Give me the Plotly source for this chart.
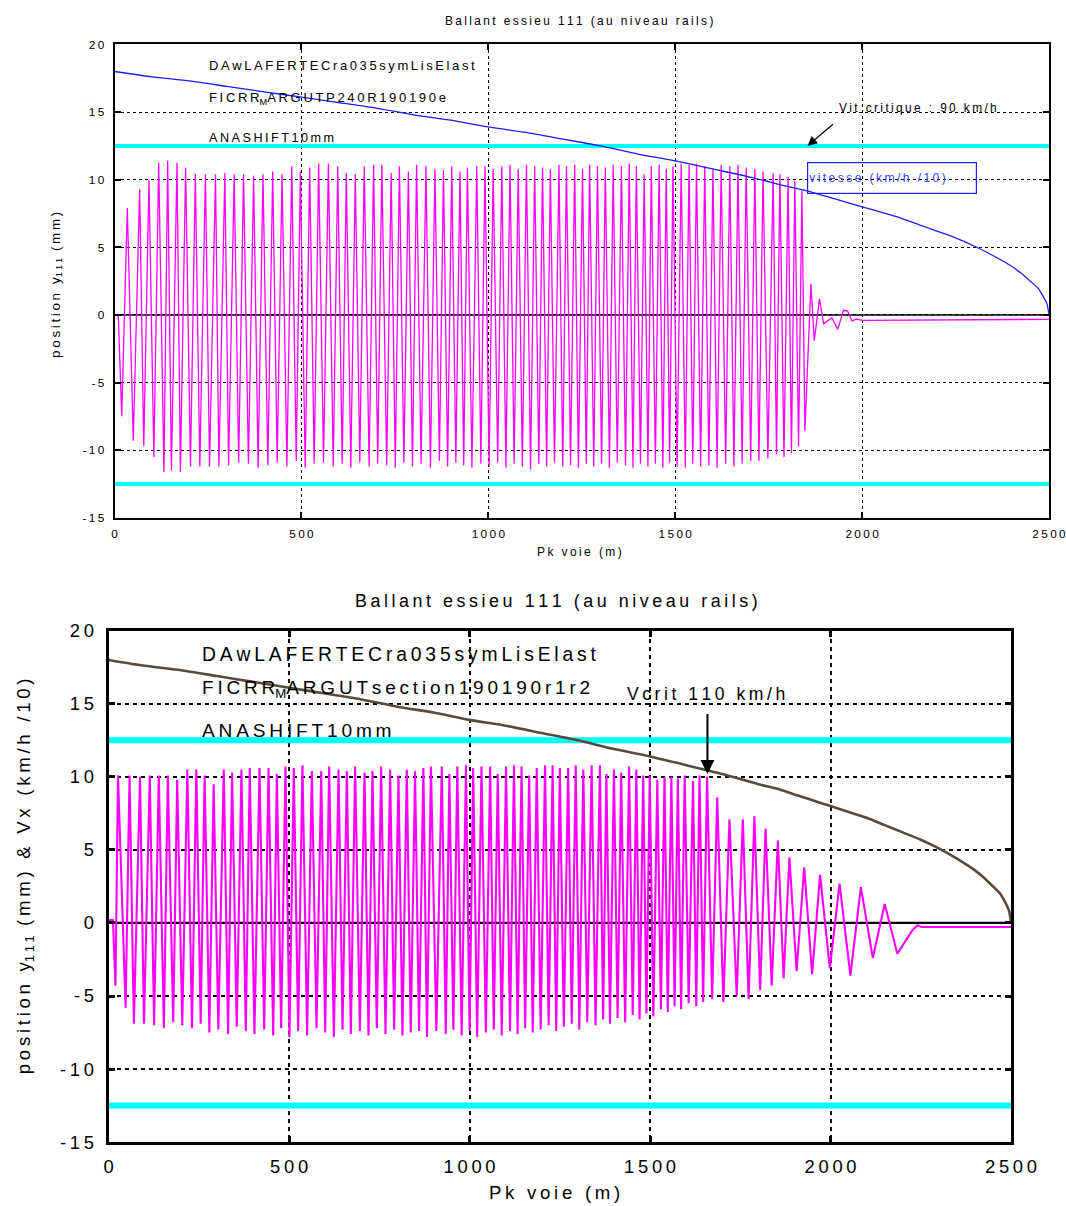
import plotly.graph_objects as go

# ---------------- data ----------------
# vehicle speed along the track (km/h / 10)
speed_x = [0, 100, 200, 300, 400, 500, 600, 700, 800, 900, 1000, 1100, 1200, 1300,
           1400, 1500, 1600, 1700, 1800, 1850, 1900, 1950, 2000, 2050, 2100, 2150,
           2200, 2250, 2300, 2350, 2400, 2425, 2450, 2470, 2480, 2490, 2495, 2500]
speed_v = [18.0, 17.6, 17.3, 16.9, 16.5, 16.1, 15.7, 15.3, 14.8, 14.4, 13.9, 13.5,
           13.0, 12.5, 11.9, 11.4, 10.8, 10.2, 9.5, 9.2, 8.8, 8.4, 8.0, 7.6, 7.2, 6.7,
           6.2, 5.7, 5.1, 4.4, 3.6, 3.1, 2.5, 2.0, 1.6, 1.1, 0.8, 0.0]

# flange clearance limits (mm)
limit_y = 12.5
track_x = [0, 2500]

# ---- run 1 : lateral displacement of axle 111 (mm) ----
top_head_x = [0, 10]
top_head_y = [0.0, -0.1]
top_peak_x = [34, 67, 92, 118, 142, 167, 190, 216, 243, 270, 295, 320, 345, 372, 397,
              423, 448, 474, 497, 522, 546, 572, 597, 620, 644, 668, 693, 715, 740,
              762, 786, 808, 833, 857, 880, 902, 924, 944, 969, 991, 1013, 1036, 1058,
              1080, 1102, 1124, 1145, 1166, 1189, 1209, 1231, 1252, 1271, 1292, 1313,
              1334, 1356, 1377, 1396, 1417, 1436, 1457, 1476, 1494, 1516, 1537, 1557,
              1579, 1601, 1623, 1646, 1668, 1690, 1713, 1735, 1762, 1780, 1802, 1820,
              1839]
top_peak_y = [7.9, 9.3, 10.0, 11.25, 11.4, 11.25, 10.9, 10.45, 10.4, 10.4, 10.5, 10.4,
              10.4, 10.3, 10.4, 10.6, 10.4, 11.0, 10.6, 10.9, 11.2, 11.2, 11.0, 10.5,
              10.4, 11.0, 11.1, 11.1, 10.5, 11.0, 10.6, 11.1, 11.0, 10.8, 10.7, 11.0,
              10.6, 10.9, 11.0, 11.0, 10.8, 11.0, 11.1, 10.8, 11.1, 11.0, 10.9, 10.8,
              11.1, 11.0, 11.1, 10.8, 11.1, 11.0, 10.9, 11.1, 11.0, 11.2, 11.0, 10.4,
              11.0, 11.1, 10.8, 11.0, 11.2, 11.1, 11.2, 11.0, 10.8, 11.1, 11.0, 11.1,
              10.9, 10.8, 10.6, 10.5, 10.4, 10.2, 9.9, 9.2]
top_trough_x = [19, 50, 78, 105, 132, 152, 176, 203, 228, 254, 279, 305, 332, 358, 384,
                410, 435, 461, 486, 510, 534, 559, 585, 609, 632, 656, 681, 704, 728,
                751, 774, 797, 820, 845, 869, 891, 913, 934, 956, 980, 1002, 1025, 1047,
                1069, 1091, 1113, 1135, 1156, 1177, 1199, 1220, 1241, 1262, 1282, 1303,
                1324, 1345, 1367, 1387, 1407, 1427, 1447, 1467, 1485, 1505, 1527, 1547,
                1568, 1590, 1612, 1635, 1657, 1679, 1702, 1724, 1748, 1771, 1791, 1811,
                1830, 1847]
top_trough_y = [-7.5, -9.3, -9.7, -10.5, -11.6, -11.5, -11.6, -11.2, -11.2, -11.2,
                -11.2, -11.1, -10.9, -11.0, -11.3, -11.1, -10.9, -11.2, -10.8, -11.3,
                -11.0, -10.9, -11.2, -11.0, -11.3, -10.9, -11.2, -11.0, -11.1, -11.3,
                -10.9, -11.2, -11.0, -11.3, -10.8, -11.2, -10.9, -11.1, -11.3, -11.0,
                -11.2, -10.9, -11.3, -11.0, -11.2, -11.4, -11.0, -11.2, -10.9, -11.2,
                -11.1, -11.3, -11.0, -11.2, -11.0, -11.3, -10.9, -11.1, -11.3, -11.0,
                -11.2, -11.0, -11.3, -10.9, -11.2, -11.3, -11.0, -11.2, -11.1, -11.3,
                -11.0, -11.2, -11.0, -10.8, -10.8, -10.6, -10.3, -10.5, -10.2, -9.7,
                -8.6]
top_tail_x = [1863, 1872, 1886, 1897, 1910, 1919, 1935, 1950, 1961, 1973, 1985, 2000,
              2500]
top_tail_y = [2.3, -1.9, 1.2, -0.65, -0.35, -0.2, -1.06, 0.35, 0.3, -0.44, -0.3, -0.4,
              -0.32]

# ---- run 2 : lateral displacement of axle 111 (mm) ----
bot_head_x = [0, 12]
bot_head_y = [0.2, 0.2]
bot_peak_x = [26, 58, 87, 114, 139, 164, 190, 218, 243, 266, 291, 319, 342, 368, 391,
              418, 443, 466, 490, 513, 537, 563, 589, 611, 637, 660, 683, 709, 731, 755,
              780, 803, 826, 849, 872, 893, 923, 944, 966, 990, 1010, 1033, 1057, 1078,
              1101, 1123, 1144, 1165, 1186, 1209, 1230, 1250, 1273, 1294, 1315, 1338,
              1361, 1379, 1400, 1420, 1442, 1462, 1481, 1499, 1520, 1540, 1559, 1577,
              1596, 1619, 1637, 1658, 1686, 1720, 1757, 1789, 1820, 1854, 1886, 1927,
              1971, 2025, 2084, 2150]
bot_peak_y = [10.1, 10.1, 10.0, 10.1, 10.1, 10.1, 9.8, 10.5, 10.5, 10.1, 9.5, 10.5,
              10.3, 10.5, 10.6, 10.6, 10.6, 10.2, 10.7, 10.6, 10.8, 10.4, 10.4, 10.7,
              10.5, 10.4, 10.7, 10.3, 10.4, 10.7, 10.5, 10.1, 10.5, 10.4, 10.6, 10.7,
              10.7, 10.2, 10.7, 10.8, 10.6, 10.7, 10.7, 10.2, 10.7, 10.8, 10.7, 10.1,
              10.6, 10.8, 10.8, 10.6, 10.6, 10.8, 10.5, 10.8, 10.8, 10.2, 10.5, 10.3,
              10.7, 10.5, 10.1, 10.1, 9.8, 10.0, 10.0, 9.9, 10.1, 9.7, 10.1, 10.0, 8.6,
              7.1, 7.1, 7.3, 6.45, 5.65, 4.5, 3.8, 3.3, 2.7, 2.45, 1.3]
bot_trough_x = [19, 47, 70, 98, 126, 153, 179, 204, 231, 255, 279, 304, 331, 355, 380,
                404, 431, 456, 478, 501, 525, 550, 576, 600, 624, 648, 671, 696, 720,
                743, 767, 791, 814, 837, 860, 882, 908, 934, 955, 978, 1000, 1021, 1045,
                1067, 1089, 1112, 1133, 1154, 1175, 1197, 1219, 1240, 1261, 1283, 1304,
                1326, 1349, 1370, 1389, 1410, 1431, 1452, 1471, 1490, 1509, 1530, 1549,
                1568, 1586, 1607, 1628, 1647, 1672, 1703, 1740, 1773, 1805, 1837, 1870,
                1906, 1949, 1998, 2055, 2117, 2185]
bot_trough_y = [-4.3, -5.8, -6.9, -6.9, -7.0, -7.2, -6.8, -7.0, -7.2, -6.9, -7.5, -7.3,
                -7.6, -7.1, -7.4, -7.6, -7.3, -7.7, -7.2, -7.8, -7.4, -7.7, -7.2, -7.5,
                -7.8, -7.3, -7.6, -7.4, -7.7, -7.2, -7.6, -7.3, -7.7, -7.5, -7.4, -7.8,
                -7.4, -7.6, -7.3, -7.7, -7.4, -7.8, -7.5, -7.3, -7.7, -7.4, -7.6, -7.2,
                -7.5, -7.3, -7.0, -7.4, -7.1, -6.9, -7.3, -6.8, -7.0, -6.6, -6.9, -6.5,
                -6.8, -6.3, -6.6, -6.2, -6.4, -5.9, -6.1, -5.7, -5.9, -5.5, -5.7, -5.4,
                -5.2, -5.4, -5.0, -5.2, -4.6, -4.3, -3.8, -3.3, -3.5, -3.1, -3.6, -2.4,
                -2.1]
bot_tail_x = [2227, 2241, 2252, 2500]
bot_tail_y = [-0.5, -0.16, -0.28, -0.28]

x_ticks = [0, 500, 1000, 1500, 2000, 2500]
y_ticks = [-15, -10, -5, 0, 5, 10, 15, 20]

# ---------------- helpers ----------------
FONT = "Liberation Sans, Arial, sans-serif"
SP = "\u2009"
GAP = "\u2002"
FW, FH = 1095, 1222
# page position of the figure's pixel grid (offset and scale of the viewer)
OX, SX = 4.2, 0.9734
OY, SY = 9.5, 0.984


def px(x):
    """Horizontal page pixel -> paper fraction."""
    return ((x - OX) / SX) / FW


def py(y):
    """Vertical page pixel -> paper fraction."""
    return 1 - ((y - OY) / SY) / FH


def spaced(s):
    """Letter-spaced rendering of a label."""
    return SP.join(s)


def displacement(head_x, head_y, pkx, pky, tx, ty, tail_x, tail_y):
    pts = sorted(zip(pkx + tx, pky + ty))
    xs = head_x + [p[0] for p in pts] + tail_x
    ys = head_y + [p[1] for p in pts] + tail_y
    return xs, ys


top_x, top_y = displacement(top_head_x, top_head_y, top_peak_x, top_peak_y,
                            top_trough_x, top_trough_y, top_tail_x, top_tail_y)
bot_x, bot_y = displacement(bot_head_x, bot_head_y, bot_peak_x, bot_peak_y,
                            bot_trough_x, bot_trough_y, bot_tail_x, bot_tail_y)

fig = go.Figure()

# ---- upper panel ----
for lim in (limit_y, -limit_y):
    fig.add_trace(go.Scatter(x=track_x, y=[lim, lim], mode="lines",
                             line=dict(color="#00ffff", width=4),
                             xaxis="x", yaxis="y", showlegend=False, hoverinfo="skip"))
fig.add_trace(go.Scatter(x=top_x, y=top_y, mode="lines",
                         line=dict(color="#ff00ff", width=1.3),
                         xaxis="x", yaxis="y", showlegend=False))
fig.add_trace(go.Scatter(x=speed_x, y=speed_v, mode="lines",
                         line=dict(color="#1c1cff", width=1.3, shape="spline",
                                   smoothing=0.6),
                         xaxis="x", yaxis="y", showlegend=False))

# ---- lower panel ----
for lim in (limit_y, -limit_y):
    fig.add_trace(go.Scatter(x=track_x, y=[lim, lim], mode="lines",
                             line=dict(color="#00ffff", width=6),
                             xaxis="x2", yaxis="y2", showlegend=False, hoverinfo="skip"))
fig.add_trace(go.Scatter(x=bot_x, y=bot_y, mode="lines",
                         line=dict(color="#ff00ff", width=2.1),
                         xaxis="x2", yaxis="y2", showlegend=False))
fig.add_trace(go.Scatter(x=speed_x, y=speed_v, mode="lines",
                         line=dict(color="#5a4a3c", width=2.6, shape="spline",
                                   smoothing=0.6),
                         xaxis="x2", yaxis="y2", showlegend=False))


def axis(domain, anchor, size, lw, gw, dash, tickvals, rng, standoff):
    return dict(domain=domain, anchor=anchor, range=rng,
                tickvals=tickvals,
                ticktext=[spaced(str(v)) for v in tickvals],
                tickfont=dict(family=FONT, size=size, color="black"),
                showline=True, linecolor="black", linewidth=lw, mirror="ticks",
                ticks="inside", ticklen=6, tickwidth=lw, tickcolor="black",
                showgrid=True, gridcolor="black", gridwidth=gw, griddash=dash,
                zeroline=False, ticklabelstandoff=standoff, fixedrange=True)


top_xd = [px(114), px(1050)]
top_yd = [py(517), py(43)]
bot_xd = [px(108), px(1012)]
bot_yd = [py(1142), py(630)]

fig.update_layout(
    width=FW, height=FH, autosize=False,
    margin=dict(l=0, r=0, t=0, b=0),
    paper_bgcolor="white", plot_bgcolor="white",
    xaxis=axis(top_xd, "y", 11.8, 2, 1.2, "3px,3px", x_ticks, [0, 2500], 4),
    yaxis=axis(top_yd, "x", 11.8, 2, 1.2, "3px,3px", y_ticks, [-15, 20], 6),
    xaxis2=axis(bot_xd, "y2", 18.4, 3, 2, "4px,4px", x_ticks, [0, 2500], 6),
    yaxis2=axis(bot_yd, "x2", 18.4, 3, 2, "4px,4px", y_ticks, [-15, 20], 8),
)

# zero reference lines
fig.add_shape(type="line", xref="x", yref="y", x0=0, x1=2500, y0=0, y1=0,
              line=dict(color="black", width=1.6), layer="below")
fig.add_shape(type="line", xref="x2", yref="y2", x0=0, x1=2500, y0=0, y1=0,
              line=dict(color="black", width=2.2), layer="below")

title_txt = "Ballant essieu 111 (au niveau rails)"
ann = []


def txt(text, x, y, size, xref="paper", yref="paper", xanchor="center",
        color="black", angle=0, **kw):
    d = dict(text=text, x=x, y=y, xref=xref, yref=yref, xanchor=xanchor,
             yanchor="middle", showarrow=False, textangle=angle,
             font=dict(family=FONT, size=size, color=color))
    d.update(kw)
    ann.append(d)


# upper panel texts
txt(spaced(title_txt), px(579), py(20), 11.9)
txt(spaced("Pk voie (m)"), px(580), py(551), 12)
txt(spaced("position y") + "<sub>" + spaced("111") + "</sub>" + GAP + spaced("(mm)"),
    px(55), py(284), 13.4, angle=-90)
txt(spaced("DAwLAFERTECra035symLisElast"), 248, 18.46, 13, xref="x", yref="y",
    xanchor="left")
txt(spaced("FICRR") + "<sub>M</sub>" + spaced("ARGUTP240R190190e"), 248, 16.0, 13.1,
    xref="x", yref="y", xanchor="left")
txt(spaced("ANASHIFT10mm"), 248, 13.07, 12.6, xref="x", yref="y", xanchor="left")
txt(spaced("Vit critique : 90 km/h"), 1934, 15.3, 11.9, xref="x", yref="y",
    xanchor="left")
txt(spaced("vitesse (km/h /10)"), 2079, 10.1, 12.1, xref="x", yref="y",
    color="#3344ff", bordercolor="#1c1cff", borderwidth=1.2, bgcolor="rgba(0,0,0,0)",
    width=166, height=28, align="left")

# lower panel texts
txt(spaced(title_txt), px(557), py(600), 17.85)
txt(spaced("Pk voie (m)"), px(555), py(1192), 18.6)
txt(spaced("position y") + "<sub>" + spaced("111") + "</sub>" + GAP +
    spaced("(mm) & Vx (km/h /10)"), px(25), py(876), 18.6, angle=-90)
txt(spaced("DAwLAFERTECra035symLisElast"), 252, 18.36, 19.3, xref="x2", yref="y2",
    xanchor="left")
txt(spaced("FICRR") + "<sub>M</sub>" + spaced("ARGUTsection190190r1r2"), 252, 16.03,
    19.0, xref="x2", yref="y2", xanchor="left")
txt(spaced("ANASHIFT10mm"), 252, 13.16, 19.1, xref="x2", yref="y2", xanchor="left")
txt(spaced("Vcrit 110 km/h"), 1430, 15.7, 17.6, xref="x2", yref="y2", xanchor="left")

# arrows pointing at the critical speed
ann.append(dict(x=1854, y=12.5, xref="x", yref="y", ax=1926, ay=14.2, axref="x",
                ayref="y", showarrow=True, arrowhead=2, arrowsize=1.6, arrowwidth=1.2,
                arrowcolor="black", text=""))
ann.append(dict(x=1659, y=10.2, xref="x2", yref="y2", ax=1659, ay=14.4, axref="x2",
                ayref="y2", showarrow=True, arrowhead=2, arrowsize=1.4, arrowwidth=2,
                arrowcolor="black", text=""))

fig.update_layout(annotations=ann)
fig.write_html("out.html", config={"responsive": False})
